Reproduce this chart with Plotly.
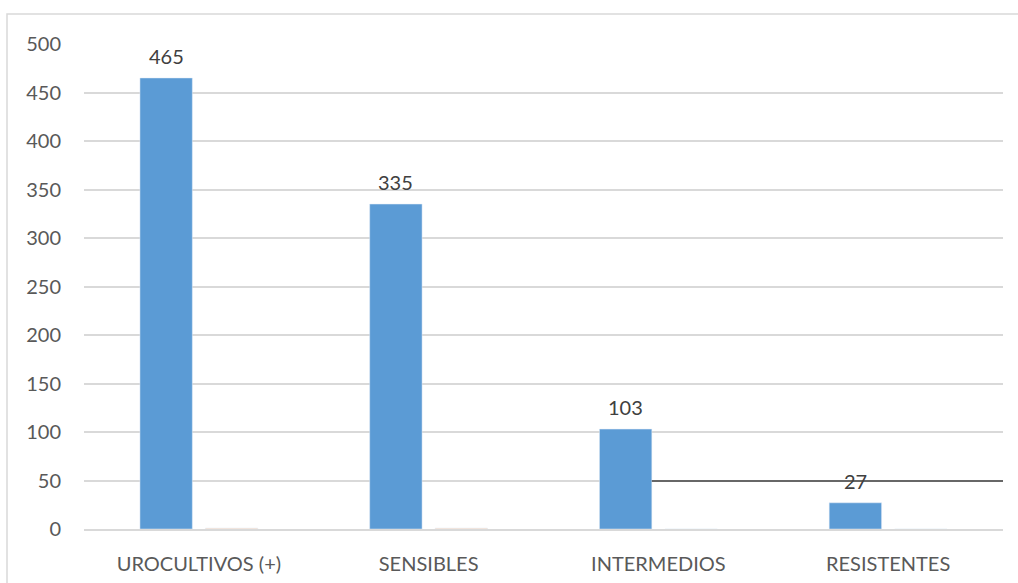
import plotly.graph_objects as go

categories = ["UROCULTIVOS (+)", "SENSIBLES", "INTERMEDIOS", "RESISTENTES"]
series_main = [465, 335, 103, 27]
series_minor = [1, 1, 0, 0]
reference_value = 49.5
y_ticks = [0, 50, 100, 150, 200, 250, 300, 350, 400, 450, 500]

W, H = 1018, 583
ML, MR, MT, MB = 84, 15, 44, 54
PW, PH = W - ML - MR, H - MT - MB

BARGAP = 0.43
BARGROUPGAP = 0.2
FONT = "Lato"
FS = 20

fig = go.Figure()
fig.add_trace(go.Bar(
    x=list(range(len(categories))), y=series_main, marker_color="#5b9bd5",
    showlegend=False,
))
fig.add_trace(go.Bar(
    x=list(range(len(categories))), y=series_minor, marker_color="rgba(237,125,49,0.25)",
    showlegend=False,
))

slot = (1 - BARGAP) / 2
bar_w = slot * (1 - BARGROUPGAP)

# data labels above main bars
for i, v in enumerate(series_main):
    fig.add_annotation(x=i - slot / 2, y=v, xref="x", yref="y", text=str(v),
                       showarrow=False, yanchor="middle", yshift=22,
                       font=dict(color="#404040", size=FS, family=FONT))

# reference line starting at right edge of the INTERMEDIOS main bar
x_start = 2 - slot / 2 + bar_w / 2
fig.add_shape(type="line", xref="x", yref="y",
              x0=x_start, x1=len(categories) - 0.5,
              y0=reference_value, y1=reference_value,
              line=dict(color="#404040", width=1.3), layer="above")

# outer chart border (extends past the visible image)
fig.add_shape(type="rect", xref="paper", yref="paper",
              x0=(7 - ML) / PW, x1=(W + 20 - ML) / PW,
              y0=-(H + 20 - (MT + PH)) / PH, y1=(MT + PH - 14) / PH,
              line=dict(color="#d9d9d9", width=1.5), fillcolor="rgba(0,0,0,0)", layer="below")

fig.update_layout(
    width=W, height=H,
    margin=dict(l=ML, r=MR, t=MT, b=MB),
    paper_bgcolor="white", plot_bgcolor="white",
    barmode="group", bargap=BARGAP, bargroupgap=BARGROUPGAP,
    font=dict(family=FONT, size=FS, color="#595959"),
    xaxis=dict(showgrid=False, showline=True, linecolor="#d9d9d9", linewidth=1.5,
               ticks="", tickmode="array", tickvals=list(range(len(categories))),
               ticktext=categories, ticklabelstandoff=16, automargin=False,
               tickfont=dict(size=FS, color="#595959"),
               range=[-0.5, len(categories) - 0.5]),
    yaxis=dict(range=[0, 500], tickvals=y_ticks, showgrid=True, gridcolor="#d9d9d9",
               gridwidth=1.5, zeroline=False, showline=False, ticks="", automargin=False,
               ticklabelstandoff=22, tickfont=dict(size=FS, color="#595959")),
)

fig.write_html("out.html")
